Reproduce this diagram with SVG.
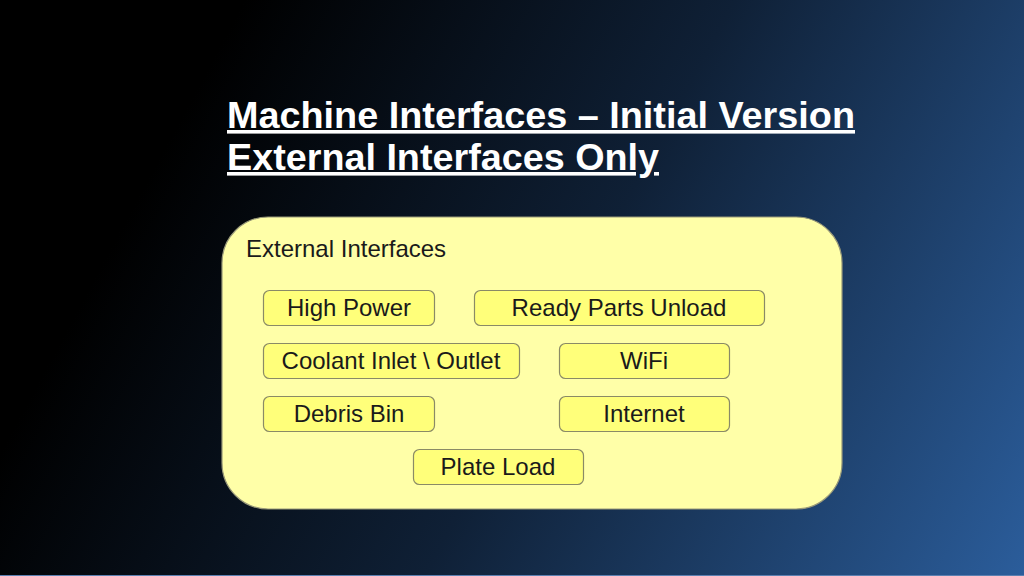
<svg xmlns="http://www.w3.org/2000/svg" width="1024" height="576" viewBox="0 0 1024 576">
<defs>
<linearGradient id="bg" gradientUnits="userSpaceOnUse" x1="180" y1="120" x2="1024" y2="576">
<stop offset="0" stop-color="#000000"/>
<stop offset="0.45" stop-color="#0f2036"/>
<stop offset="1" stop-color="#2b5d9b"/>
</linearGradient>
<style>
.title{font-family:"Liberation Sans Narrow","Liberation Sans",Arial,sans-serif;font-weight:bold;font-size:36px;fill:#ffffff;text-decoration:underline}
.lbl{font-family:"Liberation Sans",Arial,sans-serif;font-size:24px;fill:#1a1a1a;text-anchor:middle}
.box{fill:#ffff7a;stroke:#8a8a66;stroke-width:1.2}
</style>
</defs>
<rect x="0" y="0" width="1024" height="576" fill="url(#bg)"/>
<line x1="0" y1="575.5" x2="1024" y2="575.5" stroke="#5a7fb0" stroke-width="1"/>
<g id="title">
<text class="title" x="227" y="128" textLength="628" lengthAdjust="spacingAndGlyphs">Machine Interfaces – Initial Version</text>
<text class="title" x="227" y="170" textLength="432" lengthAdjust="spacingAndGlyphs">External Interfaces Only</text>
</g>
<g id="external-interfaces">
<rect x="222" y="217" width="620" height="292" rx="46" ry="46" fill="#ffffa8" stroke="#9a9a7a" stroke-width="1.2"/>
<text x="246" y="257" style="font-family:'Liberation Sans',Arial,sans-serif;font-size:24px;fill:#1a1a1a">External Interfaces</text>
</g>
<g id="high-power"><rect class="box" x="263.5" y="290.5" width="171" height="35" rx="6"/><text class="lbl" x="349" y="316">High Power</text></g>
<g id="ready-parts-unload"><rect class="box" x="474.5" y="290.5" width="290" height="35" rx="6"/><text class="lbl" x="619" y="316">Ready Parts Unload</text></g>
<g id="coolant"><rect class="box" x="263.5" y="343.5" width="256" height="35" rx="6"/><text class="lbl" x="391" y="369">Coolant Inlet \ Outlet</text></g>
<g id="wifi"><rect class="box" x="559.5" y="343.5" width="170" height="35" rx="6"/><text class="lbl" x="644" y="369">WiFi</text></g>
<g id="debris-bin"><rect class="box" x="263.5" y="396.5" width="171" height="35" rx="6"/><text class="lbl" x="349" y="422">Debris Bin</text></g>
<g id="internet"><rect class="box" x="559.5" y="396.5" width="170" height="35" rx="6"/><text class="lbl" x="644" y="422">Internet</text></g>
<g id="plate-load"><rect class="box" x="413.5" y="449.5" width="170" height="35" rx="6"/><text class="lbl" x="498" y="475">Plate Load</text></g>
<g id="connectors"/>
</svg>
